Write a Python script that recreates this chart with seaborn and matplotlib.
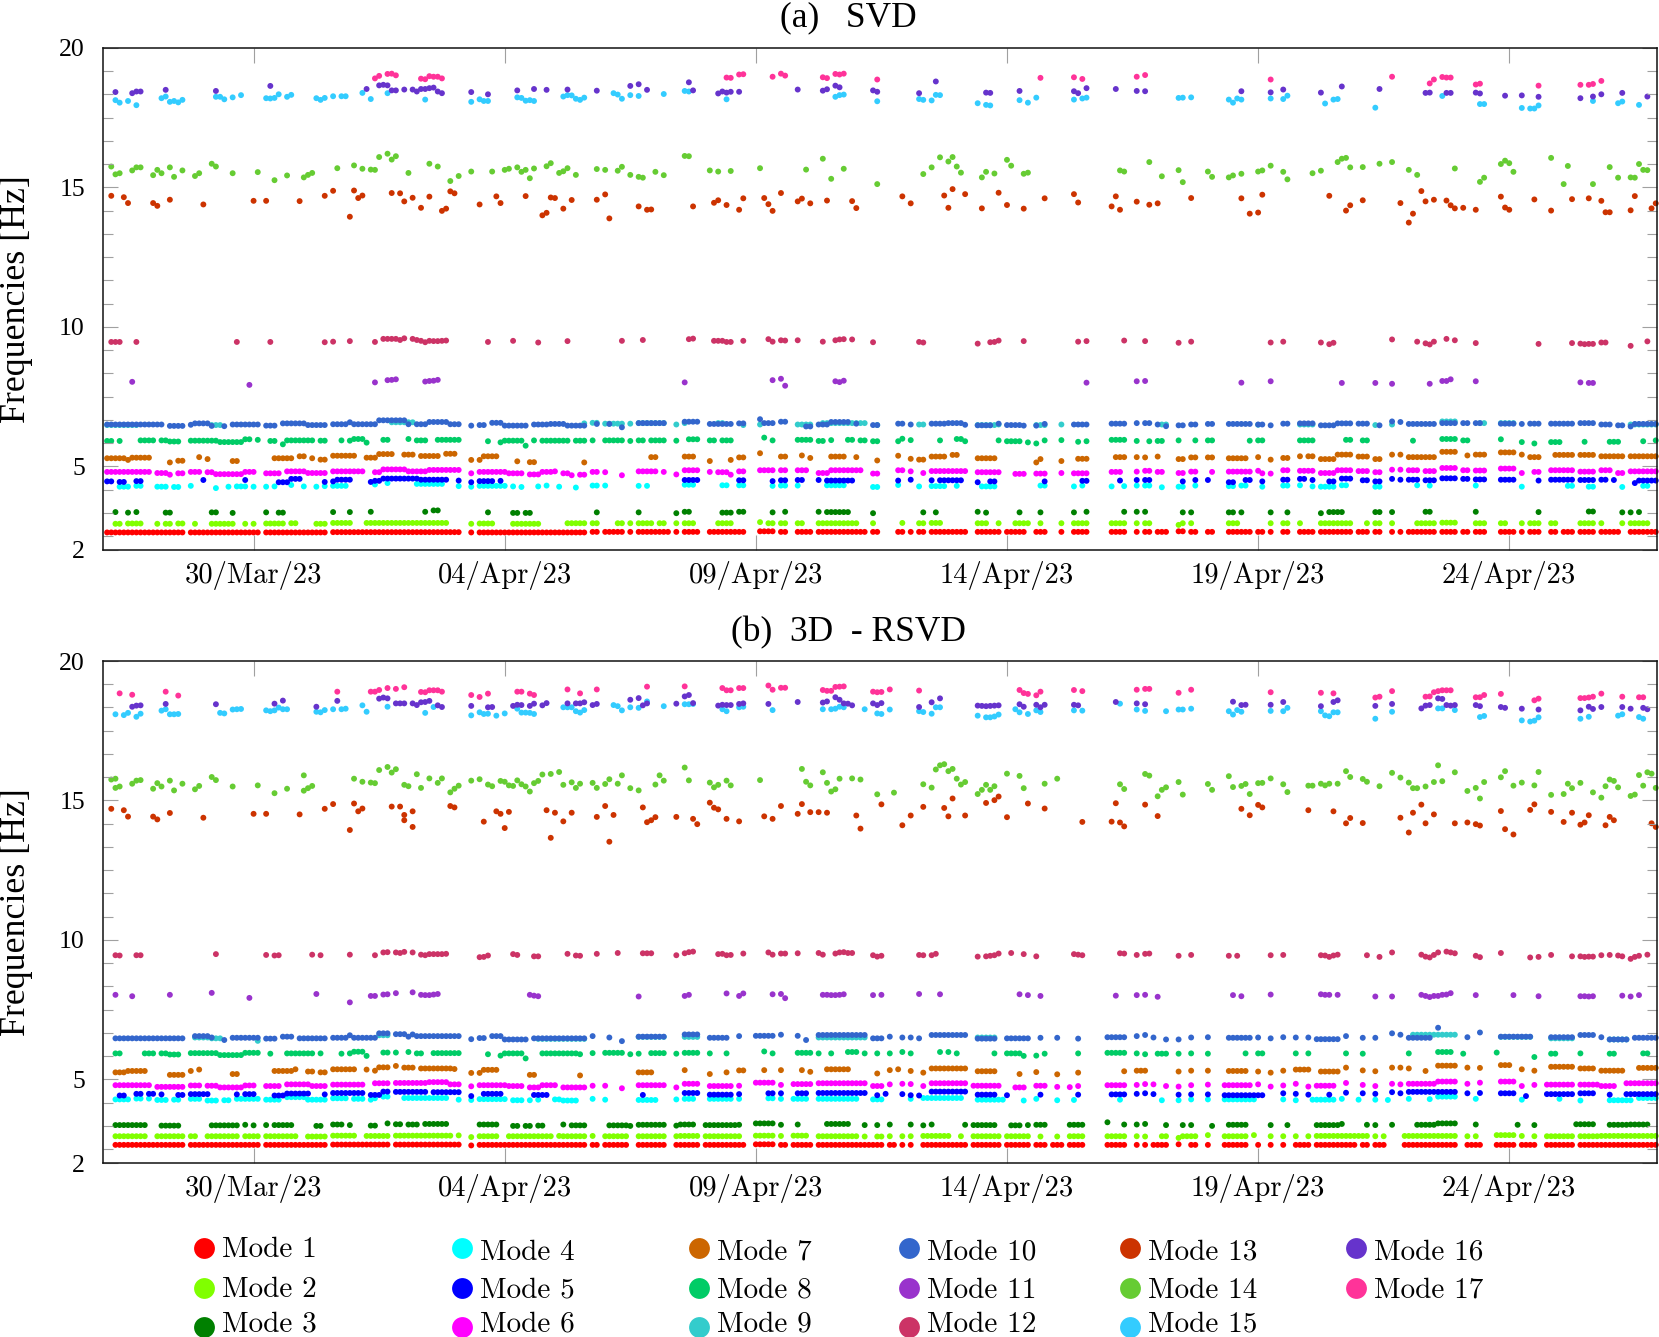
import pandas as pd
import numpy as np
import matplotlib
matplotlib.use("Agg")
import matplotlib.pyplot as plt
import matplotlib.dates as mdates
from matplotlib.lines import Line2D
import seaborn as sns

# frequencies, one list per mode and per panel
# sample number = 2 hour steps from 27/Mar/23 00:00
# (sample, Hz) is one point, (first sample, last sample, Hz) is a run of points
# at about the same level, used for the dense lower modes
a1 = [(1,19,2.63),(21,37,2.63),(39,53,2.63),(55,85,2.64),(88,88,2.63),(90,115,2.63),(117,118,2.65),(120,124,2.65),(126,126,2.65),(128,135,2.65),(137,137,2.65),(139,142,2.65),(145,151,2.65),(152,153,2.65),(157,160,2.67),(162,163,2.65),(166,169,2.65),(171,182,2.65),(184,185,2.65),(190,191,2.65),(193,193,2.65),(195,196,2.65),(198,206,2.65),(209,214,2.65),(216,220,2.65),(223,225,2.65),(229,229,2.65),(232,235,2.65),
      (241,244,2.65),(247,247,2.65),(249,250,2.65),(252,254,2.65),(257,258,2.67),(260,261,2.65),(264,265,2.65),(269,274,2.65),(276,277,2.65),(279,279,2.65),(282,283,2.65),(286,289,2.65),(291,298,2.65),(300,302,2.65),(304,305,2.65),(308,308,2.65),(310,310,2.65),(312,318,2.65),(320,323,2.65),(325,326,2.65),(328,330,2.65),(334,337,2.65),(339,339,2.65),(341,343,2.65),(346,347,2.65),(349,351,2.65),(353,356,2.65),(358,362,2.65),(365,371,2.65)]
a2 = [(3,4,2.94),(6,9,2.95),(13,13,2.94),(15,16,2.94),(18,19,2.95),(22,22,2.94),(26,31,2.94),(34,34,2.94),(36,36,2.94),(39,43,2.95),(45,46,2.96),(51,53,2.94),(55,59,2.97),(63,82,2.97),(88,88,2.94),(90,93,2.95),(98,104,2.94),
      (111,115,2.96),(117,118,2.96),(123,124,2.96),(126,126,2.96),(128,131,2.96),(133,134,2.96),(137,137,2.96),(139,141,2.96),(147,150,2.96),(157,157,3.0),(159,160,2.96),(162,163,2.96),(166,167,2.96),(171,180,2.96),(184,184,2.96),(191,191,2.97),(195,196,2.96),(198,200,2.97),(209,211,2.96),(214,214,2.96),(218,221,2.96),(224,224,2.96),(229,229,2.96),(232,235,2.96),
      (241,244,2.96),(247,247,2.96),(249,250,2.96),(257,257,2.90),(258,258,2.96),(260,260,2.96),(269,271,2.96),(279,279,2.96),(282,283,2.96),(286,286,2.96),(291,298,2.96),(302,302,2.96),(304,305,2.96),(308,308,2.96),(314,318,2.96),(320,323,2.98),(328,330,2.96),(334,335,2.96),(339,339,2.96),(341,343,2.96),(346,347,2.96),(353,356,2.96),(358,358,2.96),(363,363,2.96),(365,369,2.96)]
a3 = [(3,3,3.36),(6,6,3.34),(8,8,3.36),(15,16,3.34),(26,27,3.35),(31,31,3.33),(39,39,3.35),(42,43,3.34),(55,55,3.36),(59,59,3.36),(64,64,3.37),(77,77,3.37),(79,80,3.42),(92,92,3.35),(98,99,3.33),(101,102,3.33),
      (118,118,3.35),(128,128,3.35),(137,137,3.32),(139,140,3.37),(148,150,3.34),(152,153,3.37),(160,160,3.35),(163,163,3.37),(171,171,3.37),(173,178,3.36),(184,184,3.32),(196,196,3.35),(199,199,3.35),(209,209,3.37),(211,211,3.34),(219,219,3.35),(224,224,3.35),(232,232,3.35),(235,235,3.37),
      (244,244,3.37),(247,247,3.37),(249,249,3.37),(258,258,3.35),(260,260,3.35),(269,270,3.35),(272,272,3.35),(279,279,3.35),(283,283,3.35),(291,291,3.32),(293,296,3.36),(304,305,3.36),(308,308,3.36),(316,317,3.37),(328,328,3.37),(343,343,3.36),(355,356,3.38),(363,363,3.35),(365,365,3.35),(367,367,3.36)]
a4 = [(4,6,4.27),(8,9,4.30),(13,15,4.27),(17,18,4.26),(21,21,4.30),(27,27,4.22),(30,30,4.27),(32,34,4.28),(36,36,4.27),(39,39,4.27),(41,41,4.28),(45,45,4.33),(48,48,4.28),(51,51,4.27),(53,53,4.29),(55,58,4.30),(65,65,4.35),(68,68,4.40),(75,81,4.37),(85,85,4.29),(88,88,4.27),(90,96,4.30),(98,98,4.28),(100,100,4.26),(104,104,4.28),(106,106,4.31),(109,109,4.27),
      (113,113,4.24),(117,118,4.31),(120,120,4.31),(128,128,4.30),(130,130,4.30),(139,141,4.34),(148,149,4.32),(152,153,4.32),(160,160,4.30),(162,163,4.31),(166,166,4.31),(173,177,4.32),(184,185,4.26),(190,190,4.33),(195,195,4.28),(198,201,4.29),(204,204,4.30),(210,213,4.28),(224,225,4.31),(232,232,4.28),(234,234,4.31),
      (241,241,4.28),(244,244,4.29),(247,247,4.31),(249,250,4.31),(253,253,4.25),(257,258,4.27),(261,261,4.31),(269,270,4.29),(272,273,4.31),(277,277,4.27),(282,283,4.31),(286,286,4.32),(289,289,4.28),(291,294,4.27),(296,297,4.32),(304,305,4.27),(314,314,4.32),(317,317,4.31),(328,328,4.31),(339,339,4.27),(350,351,4.30),(355,356,4.27),(363,363,4.26),(368,369,4.30)]
a5 = [(1,2,4.46),(4,5,4.44),(8,9,4.47),(24,24,4.51),(34,34,4.51),(42,44,4.43),(45,47,4.55),(53,53,4.44),(55,55,4.46),(56,59,4.52),(64,64,4.44),(65,66,4.48),(67,75,4.56),(76,82,4.52),(85,85,4.49),(88,88,4.43),(90,93,4.47),(95,95,4.48),
      (139,142,4.51),(152,153,4.50),(160,160,4.47),(162,163,4.50),(166,167,4.51),(171,171,4.51),(173,179,4.49),(190,190,4.49),(193,193,4.52),(198,198,4.50),(200,205,4.50),(209,209,4.43),(212,213,4.46),(225,225,4.46),(234,235,4.48),
      (243,243,4.49),(247,247,4.51),(249,250,4.51),(258,258,4.46),(261,261,4.51),(264,264,4.51),(269,270,4.43),(273,274,4.51),(277,277,4.46),(282,283,4.52),(286,287,4.55),(289,289,4.51),(293,294,4.46),(296,298,4.56),(301,302,4.50),(304,305,4.46),(308,308,4.55),(310,310,4.52),(312,314,4.52),(316,318,4.50),(320,323,4.57),(325,326,4.55),(328,330,4.53),(334,337,4.52),(343,343,4.49),(346,351,4.52),(353,356,4.51),(358,359,4.52),(361,361,4.51),(366,366,4.40),(367,371,4.49)]
a6 = [(1,11,4.80),(13,15,4.76),(16,16,4.70),(18,19,4.75),(21,23,4.80),(25,26,4.79),(27,33,4.72),(34,36,4.80),(39,42,4.75),(44,48,4.82),(49,53,4.76),(55,62,4.82),(65,66,4.79),(67,72,4.89),(73,77,4.82),(78,85,4.87),(88,88,4.75),(90,96,4.80),(97,100,4.75),(102,104,4.71),(105,107,4.80),(108,108,4.82),
      (110,111,4.75),(112,112,4.68),(114,115,4.70),(117,118,4.80),(120,120,4.79),(124,124,4.68),(128,132,4.82),(134,134,4.80),(137,137,4.71),(139,142,4.86),(145,145,4.80),(147,149,4.79),(150,150,4.70),(152,153,4.82),(157,160,4.86),(162,163,4.86),(166,168,4.86),(171,173,4.76),(174,181,4.86),(184,185,4.74),(190,191,4.86),(193,193,4.82),(196,196,4.76),(198,206,4.83),(209,214,4.79),(218,220,4.73),(223,225,4.74),(229,229,4.76),(232,235,4.75),
      (241,243,4.80),(247,247,4.81),(249,250,4.84),(252,253,4.80),(257,258,4.76),(260,261,4.81),(265,265,4.80),(269,274,4.81),(276,276,4.84),(277,277,4.75),(279,279,4.74),(282,283,4.86),(286,289,4.84),(291,294,4.76),(295,298,4.86),(300,302,4.83),(304,305,4.79),(308,308,4.88),(310,310,4.88),(312,314,4.86),(316,318,4.83),(320,323,4.94),(325,326,4.86),(328,330,4.85),(334,337,4.92),(339,339,4.76),(342,343,4.80),(346,351,4.86),(353,356,4.81),(358,360,4.86),(362,363,4.76),(365,371,4.82)]
a7 = [(1,5,5.29),(6,6,5.23),(7,11,5.31),(16,16,5.14),(18,19,5.20),(23,23,5.33),(25,25,5.26),(31,32,5.19),(41,45,5.29),(47,48,5.36),(50,50,5.29),(52,53,5.24),(55,60,5.38),(63,65,5.31),(66,69,5.44),(72,74,5.42),(76,80,5.37),(82,84,5.45),(88,88,5.23),(90,90,5.23),(91,94,5.36),(99,99,5.18),(102,103,5.15),
      (115,115,5.14),(131,132,5.33),(139,141,5.35),(145,145,5.19),(150,150,5.23),(152,153,5.32),(157,157,5.47),(162,163,5.35),(167,167,5.39),(169,169,5.30),(174,177,5.35),(180,180,5.33),(185,185,5.21),(190,190,5.38),(193,193,5.27),(195,196,5.24),(198,201,5.35),(203,204,5.41),(209,213,5.29),(223,223,5.14),(224,224,5.26),(229,229,5.19),(233,235,5.27),
      (242,244,5.33),(247,247,5.33),(249,249,5.32),(252,252,5.35),(257,258,5.26),(260,261,5.32),(264,265,5.32),(269,273,5.29),(276,276,5.33),(279,279,5.24),(282,283,5.30),(286,286,5.36),(288,289,5.36),(291,294,5.26),(295,298,5.42),(300,302,5.35),(304,305,5.26),(308,308,5.42),(310,310,5.42),(312,318,5.33),(320,323,5.52),(326,326,5.39),(328,330,5.42),(334,337,5.50),(339,339,5.42),(341,343,5.33),(347,351,5.41),(353,356,5.41),(358,363,5.36),(365,371,5.36)]
a8 = [(1,2,5.91),(4,4,5.91),(9,12,5.93),(14,15,5.93),(16,18,5.89),(21,27,5.92),(28,33,5.87),(34,35,5.97),(37,37,5.95),(40,41,5.91),(43,43,5.79),(44,50,5.93),(52,53,5.92),(57,57,5.93),(59,59,5.92),(60,62,5.98),(63,63,5.85),(67,68,5.95),(73,73,5.98),(75,77,5.93),(80,85,5.95),(92,92,5.90),(95,95,5.86),(96,100,5.92),(101,101,5.74),(103,103,5.93),(105,111,5.92),
      (113,115,5.92),(117,117,5.93),(120,124,5.93),(126,126,5.91),(128,129,5.93),(131,134,5.93),(137,137,5.92),(140,142,5.97),(145,146,5.93),(148,150,5.93),(158,158,6.03),(160,160,5.93),(166,169,5.95),(171,172,5.91),(174,174,5.94),(178,179,5.95),(181,182,5.93),(184,185,5.90),(190,190,5.90),(191,191,5.99),(193,193,5.94),(200,200,5.93),(204,205,5.98),(206,206,5.90),(214,214,5.93),(216,219,5.90),(221,221,5.86),(223,223,5.82),(225,225,5.93),(229,229,5.94),(233,233,5.88),(235,235,5.90),
      (241,244,5.95),(247,247,5.91),(250,250,5.90),(252,253,5.91),(257,257,5.93),(261,261,5.93),(264,265,5.93),(274,274,5.92),(276,277,5.93),(286,289,5.93),(297,298,5.95),(301,302,5.93),(313,313,5.92),(320,323,5.98),(325,326,5.93),(334,334,5.97),(339,339,5.87),(342,342,5.82),(346,348,5.87),(354,354,5.88),(360,362,5.88),(368,368,5.90),(371,371,5.93)]
a9 = [(1,8,6.48),(26,28,6.48),(69,74,6.58),(115,115,6.54),(117,118,6.56),(120,124,6.53),(126,126,6.53),(128,134,6.55),(137,137,6.50),(139,139,6.55),(147,148,6.55),(153,153,6.48),(157,157,6.50),(166,169,6.50),(172,182,6.55),(185,185,6.48),(195,196,6.50),(209,213,6.48),(214,214,6.50),(223,225,6.48),(229,229,6.50),
      (253,254,6.50),(276,276,6.49),(286,289,6.50),(304,304,6.48),(308,308,6.50),(320,323,6.61),(329,330,6.55),(334,337,6.55),(365,371,6.50)]
a10 = [(1,14,6.50),(16,19,6.45),(21,21,6.49),(22,25,6.54),(26,26,6.45),(29,29,6.44),(31,37,6.50),(39,41,6.46),(43,48,6.54),(49,53,6.48),(55,58,6.51),(59,59,6.58),(60,65,6.51),(66,72,6.65),(73,73,6.51),(75,77,6.51),(78,82,6.59),(83,85,6.51),(88,88,6.46),(90,91,6.48),(93,95,6.56),(96,101,6.46),(103,106,6.50),(107,110,6.52),
       (111,115,6.46),(118,118,6.52),(121,121,6.52),(124,124,6.40),(128,134,6.55),(139,142,6.60),(145,150,6.52),(152,153,6.54),(157,157,6.69),(158,160,6.55),(162,163,6.60),(168,169,6.43),(171,173,6.50),(174,178,6.59),(180,180,6.53),(184,185,6.48),(190,191,6.53),(193,193,6.50),(198,201,6.53),(202,205,6.55),(206,206,6.49),(209,212,6.47),(214,214,6.53),(216,219,6.48),(220,220,6.46),(223,223,6.46),(225,225,6.52),(232,235,6.50),
       (241,244,6.53),(247,247,6.55),(249,250,6.55),(252,252,6.50),(254,254,6.44),(257,258,6.47),(260,261,6.50),(264,265,6.52),(269,274,6.52),(276,277,6.50),(279,279,6.47),(282,283,6.53),(286,289,6.54),(291,294,6.47),(295,298,6.54),(300,302,6.53),(305,305,6.47),(308,308,6.61),(310,310,6.59),(312,318,6.52),(320,323,6.55),(325,326,6.55),(328,329,6.55),(334,337,6.53),(339,339,6.52),(341,343,6.53),(346,351,6.53),(353,356,6.55),(358,360,6.50),(362,363,6.47),(365,365,6.43),(366,371,6.52)]
a11 = [(7,8.03),(35,7.92),(65,8.01),(68,8.09),(69,8.10),(70,8.12),(77,8.04),(78,8.06),(79,8.07),(80,8.10),(139,8.01),(160,8.09),(162,8.14),(163,7.89),(175,8.05),(176,8.02),(177,8.07),(235,8.00),(247,8.05),(249,8.06),(272,8.00),(279,8.05),(296,7.99),(304,7.99),(308,7.96),(317,7.96),(320,8.06),(321,8.06),(322,8.12),(328,8.05),(353,8.01),(355,7.99),(356,7.99)]
a12 = [(2,9.46),(3,9.46),(4,9.46),(8,9.46),(32,9.46),(40,9.46),(53,9.45),(55,9.47),(59,9.49),(65,9.46),(67,9.57),(68,9.57),(69,9.57),(70,9.57),(71,9.53),(72,9.59),(74,9.57),(75,9.53),(76,9.50),(77,9.45),(78,9.50),(79,9.49),(80,9.49),(81,9.50),(82,9.51),(92,9.46),(98,9.50),(104,9.44),
       (111,9.49),(124,9.50),(129,9.53),(140,9.56),(141,9.58),(146,9.50),(147,9.50),(148,9.50),(149,9.46),(150,9.46),(153,9.50),(159,9.56),(160,9.47),(162,9.52),(163,9.51),(166,9.52),(172,9.47),(175,9.52),(176,9.55),(177,9.56),(179,9.55),(184,9.45),(195,9.46),(196,9.44),(209,9.40),(212,9.45),(213,9.46),(214,9.51),(220,9.49),(233,9.47),(235,9.49),
       (244,9.51),(249,9.49),(257,9.43),(260,9.47),(279,9.44),(282,9.47),(291,9.44),(293,9.38),(294,9.43),(308,9.55),(314,9.47),(316,9.41),(317,9.37),(318,9.47),(321,9.57),(323,9.52),(328,9.42),(343,9.39),(351,9.42),(353,9.40),(354,9.38),(355,9.39),(356,9.39),(358,9.44),(359,9.44),(365,9.32),(369,9.48)]
a13 = [(2,14.70),(5,14.65),(6,14.44),(12,14.44),(13,14.34),(16,14.56),(24,14.39),(36,14.52),(39,14.52),(47,14.51),(53,14.70),(55,14.88),(59,13.95),(60,14.89),(61,14.62),(62,14.71),(69,14.80),(71,14.79),(72,14.50),(74,14.63),(76,14.27),(78,14.67),(81,14.16),(82,14.24),(83,14.86),(84,14.79),(90,14.39),(94,14.68),(95,14.44),(101,14.69),(105,14.00),(106,14.09),(107,14.64),(108,14.62),
       (110,14.24),(112,14.55),(118,14.56),(120,14.75),(121,13.89),(128,14.32),(130,14.20),(131,14.21),(141,14.32),(146,14.45),(147,14.54),(149,14.37),(152,14.20),(153,14.61),(158,14.62),(159,14.40),(160,14.16),(162,14.80),(166,14.50),(167,14.60),(169,14.43),(173,14.53),(179,14.51),(180,14.26),(191,14.68),(193,14.43),(201,14.71),(202,14.27),(203,14.94),(206,14.76),(210,14.25),(214,14.81),(216,14.37),(220,14.24),(225,14.61),(232,14.76),(233,14.46),
       (241,14.32),(242,14.68),(243,14.20),(247,14.49),(250,14.38),(252,14.43),(260,14.62),(272,14.61),(274,14.06),(276,14.10),(277,14.74),(293,14.70),(297,14.17),(298,14.36),(301,14.54),(310,14.44),(312,13.74),(313,14.06),(315,14.87),(316,14.50),(318,14.56),(321,14.53),(322,14.36),(323,14.25),(325,14.27),(328,14.20),(334,14.67),(335,14.28),(336,14.20),(342,14.57),(346,14.17),(351,14.58),(355,14.61),(358,14.52),(359,14.11),(360,14.11),(365,14.18),(366,14.69),(370,14.25),(371,14.43)]
a14 = [(2,15.75),(3,15.47),(4,15.51),(7,15.61),(8,15.72),(9,15.72),(12,15.44),(13,15.63),(14,15.51),(16,15.72),(17,15.38),(19,15.61),(22,15.41),(23,15.51),(26,15.85),(27,15.75),(31,15.51),(37,15.55),(41,15.26),(44,15.43),(48,15.36),(49,15.45),(50,15.52),(56,15.69),(60,15.79),(62,15.67),(64,15.64),(65,15.63),(66,16.09),(68,16.21),(69,16.00),(70,16.12),(73,15.52),(78,15.85),(80,15.75),(83,15.23),(85,15.41),(88,15.57),(93,15.57),(96,15.63),(97,15.67),(99,15.72),(100,15.56),(101,15.63),(102,15.33),(103,15.68),(106,15.76),(107,15.87),(109,15.52),
       (110,15.58),(111,15.69),(113,15.45),(118,15.66),(120,15.63),(123,15.60),(124,15.74),(126,15.45),(128,15.38),(129,15.35),(132,15.56),(134,15.44),(139,16.13),(140,16.12),(145,15.61),(147,15.57),(150,15.59),(157,15.69),(168,15.64),(172,16.03),(174,15.31),(177,15.67),(185,15.12),(196,15.48),(198,15.72),(200,16.08),(202,15.93),(203,16.09),(204,15.75),(205,15.53),(210,15.36),(211,15.56),(213,15.50),(216,15.99),(217,15.78),(220,15.49),(221,15.53),
       (243,15.61),(244,15.57),(250,15.91),(253,15.40),(257,15.62),(258,15.19),(264,15.57),(265,15.38),(269,15.36),(270,15.43),(272,15.49),(276,15.57),(277,15.61),(279,15.78),(282,15.56),(283,15.29),(289,15.51),(291,15.60),(295,15.91),(296,16.03),(297,16.06),(298,15.72),(301,15.73),(305,15.85),(308,15.91),(312,15.63),(314,15.45),(323,15.68),(329,15.20),(330,15.35),(334,15.84),(335,15.96),(336,15.87),(337,15.56),(346,16.06),(349,15.12),(350,15.77),(356,15.12),(360,15.73),(362,15.35),(365,15.36),(366,15.35),(367,15.84),(368,15.63),(369,15.62)]
a15 = [(3,18.13),(4,18.04),(6,18.10),(8,17.95),(14,18.20),(15,18.26),(16,18.07),(17,18.10),(18,18.05),(19,18.14),(27,18.25),(28,18.25),(29,18.16),(31,18.23),(33,18.31),(39,18.20),(40,18.19),(41,18.21),(42,18.34),(44,18.25),(45,18.32),(51,18.20),(52,18.14),(53,18.21),(55,18.27),(57,18.27),(58,18.27),(62,18.39),(64,18.17),(68,18.38),(77,18.15),(88,18.07),(90,18.16),(91,18.10),(92,18.10),(99,18.23),(100,18.21),(101,18.11),(102,18.13),(103,18.10),
       (110,18.26),(111,18.31),(112,18.30),(113,18.18),(114,18.14),(115,18.22),(122,18.38),(123,18.33),(124,18.18),(126,18.31),(128,18.28),(134,18.35),(139,18.46),(140,18.44),(149,18.16),(175,18.25),(176,18.31),(177,18.33),(185,18.09),(195,18.17),(196,18.14),(198,18.12),(199,18.32),(200,18.31),(209,18.02),(211,17.96),(212,17.94),(219,18.13),(221,18.04),(223,18.22),(232,18.15),(234,18.19),(235,18.22),
       (257,18.21),(258,18.22),(260,18.23),(269,18.15),(270,18.04),(271,18.19),(272,18.15),(279,18.19),(282,18.17),(283,18.29),(292,18.01),(294,18.15),(295,18.17),(304,17.86),(320,18.28),(329,17.99),(330,17.99),(339,17.85),(341,17.83),(342,17.83),(343,17.94),(356,18.10),(362,18.02),(363,18.08),(367,17.96)]
a16 = [(3,18.42),(7,18.38),(8,18.44),(9,18.44),(15,18.50),(27,18.46),(40,18.64),(63,18.53),(66,18.66),(67,18.68),(68,18.66),(69,18.48),(70,18.48),(72,18.51),(74,18.51),(75,18.44),(76,18.53),(77,18.53),(78,18.56),(79,18.58),(80,18.44),(81,18.38),(88,18.42),(92,18.34),(99,18.48),(103,18.53),(106,18.50),
       (111,18.51),(118,18.47),(126,18.64),(128,18.70),(130,18.50),(140,18.77),(141,18.48),(147,18.37),(148,18.44),(149,18.40),(150,18.43),(152,18.43),(166,18.51),(172,18.47),(173,18.52),(175,18.65),(176,18.59),(184,18.48),(185,18.43),(195,18.38),(199,18.80),(211,18.40),(212,18.39),(219,18.46),(232,18.45),(233,18.38),(235,18.56),
       (242,18.53),(247,18.46),(249,18.45),(272,18.45),(279,18.41),(282,18.51),(291,18.40),(296,18.62),(305,18.53),(316,18.39),(317,18.40),(321,18.39),(322,18.39),(328,18.40),(329,18.37),(335,18.29),(339,18.30),(343,18.25),(353,18.20),(356,18.26),(358,18.34),(363,18.39),(369,18.26)]
a17 = [(65,18.91),(66,19.00),(68,19.07),(69,19.08),(70,19.02),(76,18.90),(77,18.88),(78,18.99),(79,18.97),(80,18.97),(81,18.91),(149,18.94),(150,18.93),(152,19.05),(153,19.06),(160,18.97),(162,19.08),(163,19.01),(172,18.95),(173,18.92),(175,19.07),(176,19.05),(177,19.08),(185,18.87),(224,18.93),(232,18.95),(234,18.89),
       (247,18.97),(249,19.03),(279,18.87),(308,18.97),(317,18.73),(318,18.87),(320,18.96),(321,18.94),(322,18.94),(328,18.69),(329,18.72),(343,18.65),(353,18.68),(355,18.68),(356,18.71),(358,18.82)]

b1 = [(3,19,2.65),(21,37,2.65),(39,53,2.65),(55,68,2.66),(70,85,2.66),(88,88,2.63),(90,115,2.65),(117,118,2.65),(120,125,2.65),(128,134,2.65),(137,142,2.65),(144,151,2.65),(152,153,2.65),(156,160,2.67),(162,163,2.65),(165,169,2.65),(171,182,2.65),(183,186,2.65),(188,189,2.65),(191,191,2.65),(193,193,2.65),(196,206,2.65),(208,214,2.65),(216,221,2.65),(223,225,2.65),(227,229,2.65),(231,234,2.65),
      (240,244,2.65),(247,247,2.65),(249,249,2.65),(251,254,2.65),(257,257,2.67),(260,261,2.65),(264,264,2.65),(268,273,2.65),(276,276,2.65),(279,279,2.65),(282,282,2.65),(285,288,2.65),(290,299,2.65),(301,302,2.65),(304,306,2.65),(311,323,2.65),(326,329,2.65),(333,337,2.65),(339,342,2.65),(345,351,2.65),(353,357,2.65),(358,371,2.65)]
b2 = [(3,10,2.96),(13,19,2.96),(21,22,2.96),(25,32,2.96),(34,37,2.96),(39,46,2.96),(49,53,2.95),(55,60,2.98),(63,68,2.97),(70,83,2.98),(85,85,2.99),(88,88,2.93),(90,94,2.96),(97,107,2.96),(109,109,2.97),
      (110,115,2.96),(117,117,2.97),(120,125,2.96),(128,134,2.96),(137,137,2.96),(138,142,2.97),(144,151,2.96),(152,152,2.96),(156,160,2.98),(162,162,2.97),(165,168,2.98),(171,180,2.96),(182,182,2.95),(185,186,2.95),(188,188,2.96),(191,191,2.96),(193,193,2.96),(196,202,2.97),(205,205,2.96),(208,214,2.96),(216,221,2.96),(224,224,2.95),(228,228,2.95),(231,234,2.96),
      (240,244,2.96),(247,247,2.96),(249,249,2.95),(253,254,2.96),(257,257,2.90),(258,261,2.96),(264,264,3.0),(268,273,2.96),(275,275,3.0),(279,279,2.96),(282,282,2.96),(285,285,2.96),(288,288,2.96),(290,300,2.97),(301,302,2.97),(304,304,2.96),(306,306,2.96),(311,323,2.97),(326,326,2.96),(328,328,2.96),(333,337,3.0),(339,339,2.97),(342,342,2.96),(345,351,2.96),(353,357,2.96),(358,371,2.97)]
b3 = [(3,10,3.36),(14,18,3.34),(26,32,3.35),(34,34,3.37),(36,36,3.35),(39,39,3.36),(41,45,3.36),(51,52,3.33),(55,57,3.38),(59,59,3.36),(64,65,3.34),(68,68,3.42),(70,71,3.39),(73,75,3.38),(77,82,3.40),(90,94,3.38),(98,99,3.33),(101,102,3.33),(104,105,3.34),
      (110,110,3.38),(112,115,3.35),(121,125,3.35),(126,126,3.33),(128,134,3.37),(137,137,3.34),(138,141,3.38),(144,151,3.36),(152,152,3.37),(156,160,3.42),(162,162,3.37),(166,166,3.38),(173,178,3.40),(182,182,3.36),(185,185,3.36),(188,188,3.38),(193,193,3.38),(196,196,3.35),(198,198,3.38),(206,206,3.37),(208,213,3.36),(217,219,3.35),(221,221,3.36),(223,225,3.37),(231,234,3.37),
      (240,240,3.46),(244,244,3.38),(247,247,3.38),(249,249,3.40),(254,254,3.36),(258,258,3.36),(260,260,3.36),(265,265,3.33),(269,273,3.37),(279,279,3.36),(283,283,3.36),(290,295,3.36),(296,296,3.40),(302,302,3.37),(304,304,3.36),(308,308,3.37),(314,318,3.37),(319,323,3.42),(328,328,3.38),(338,338,3.37),(342,342,3.36),(352,356,3.39),(360,364,3.37),(365,369,3.38)]
b4 = [(3,6,4.28),(8,9,4.31),(11,11,4.31),(13,15,4.26),(17,18,4.27),(21,23,4.30),(25,27,4.24),(29,30,4.25),(32,37,4.30),(39,42,4.27),(44,48,4.36),(49,53,4.27),(55,58,4.32),(60,62,4.30),(64,64,4.27),(65,65,4.32),(67,68,4.38),(72,82,4.33),(85,85,4.27),(88,88,4.26),(90,96,4.29),(98,100,4.25),(102,102,4.25),(104,104,4.27),(108,109,4.28),
      (110,113,4.24),(117,117,4.30),(120,120,4.27),(128,132,4.26),(137,137,4.28),(139,141,4.30),(145,150,4.30),(152,152,4.30),(159,160,4.32),(162,162,4.30),(165,168,4.30),(171,180,4.30),(184,186,4.28),(193,193,4.30),(196,205,4.33),(209,215,4.27),(220,220,4.24),(223,223,4.30),(228,228,4.25),(232,232,4.26),(243,243,4.27),(253,253,4.25),(257,257,4.25),(260,260,4.28),(264,264,4.28),(268,275,4.28),(282,282,4.28),(285,285,4.25),(289,294,4.27),(296,296,4.30),(300,300,4.27),(304,304,4.27),(307,307,4.26),(312,312,4.30),(317,317,4.29),(319,323,4.38),(328,328,4.30),(339,339,4.27),(348,348,4.30),(353,353,4.24),(360,365,4.25),(367,371,4.33)]
b5 = [(4,5,4.42),(8,9,4.48),(11,12,4.48),(14,14,4.46),(18,19,4.44),(21,25,4.47),(32,32,4.46),(34,36,4.47),(41,43,4.42),(44,49,4.49),(53,53,4.46),(55,62,4.51),(64,66,4.44),(67,68,4.56),(70,77,4.55),(79,85,4.54),(88,88,4.40),(91,95,4.48),(103,106,4.44),
      (129,129,4.44),(139,142,4.51),(145,150,4.45),(152,152,4.47),(159,160,4.50),(162,162,4.50),(166,168,4.50),(171,182,4.51),(185,185,4.43),(187,187,4.48),(191,191,4.47),(193,193,4.43),(195,195,4.42),(198,206,4.56),(209,213,4.45),(216,216,4.43),(224,224,4.45),(233,233,4.45),(241,244,4.46),(247,247,4.48),(249,249,4.50),(251,251,4.47),(257,257,4.45),(260,260,4.46),(264,264,4.46),(268,277,4.43),(282,282,4.50),(285,285,4.48),(288,288,4.45),(293,293,4.45),(297,297,4.52),(301,301,4.50),(304,304,4.48),(308,308,4.54),(310,310,4.50),(312,323,4.55),(326,326,4.50),(329,329,4.51),(334,337,4.50),(340,340,4.40),(345,351,4.47),(353,356,4.50),(360,360,4.45),(364,371,4.47)]
b6 = [(3,11,4.79),(13,19,4.73),(21,23,4.78),(25,27,4.77),(28,33,4.71),(34,36,4.78),(39,42,4.76),(44,49,4.82),(50,53,4.76),(55,62,4.81),(65,68,4.86),(70,77,4.87),(78,82,4.90),(83,85,4.82),(88,88,4.75),(90,96,4.79),(97,100,4.76),(102,104,4.71),(105,108,4.79),
      (110,115,4.71),(117,117,4.77),(120,120,4.77),(124,124,4.68),(128,134,4.79),(137,137,4.71),(139,142,4.84),(145,150,4.76),(152,152,4.77),(156,160,4.88),(162,162,4.80),(165,169,4.83),(171,182,4.86),(184,186,4.76),(188,188,4.82),(191,191,4.84),(193,193,4.83),(196,196,4.76),(198,206,4.86),(208,214,4.77),(218,220,4.71),(223,225,4.77),(228,228,4.73),(231,231,4.72),(233,233,4.76),
      (240,244,4.79),(247,247,4.80),(249,249,4.83),(251,251,4.82),(254,254,4.76),(257,257,4.74),(260,260,4.79),(264,264,4.81),(268,274,4.79),(276,276,4.82),(279,279,4.74),(282,282,4.78),(285,285,4.84),(288,288,4.74),(290,294,4.77),(297,297,4.87),(301,301,4.80),(304,304,4.76),(308,308,4.84),(310,310,4.82),(312,318,4.84),(319,323,4.92),(326,326,4.84),(329,329,4.88),(334,337,4.92),(339,339,4.76),(342,342,4.80),(345,351,4.81),(353,357,4.81),(358,361,4.76),(364,371,4.86)]
b7 = [(3,5,5.25),(6,10,5.30),(16,19,5.16),(21,21,5.30),(23,23,5.35),(31,32,5.19),(41,45,5.30),(46,46,5.36),(49,50,5.28),(52,53,5.25),(55,60,5.36),(63,63,5.35),(65,65,5.31),(66,68,5.43),(70,70,5.48),(72,74,5.42),(76,83,5.39),(84,84,5.37),(88,88,5.23),(90,90,5.23),(91,94,5.34),(102,103,5.16),
      (114,114,5.14),(128,131,5.25),(139,139,5.33),(145,145,5.19),(149,149,5.25),(152,153,5.32),(158,158,5.33),(162,162,5.33),(167,167,5.33),(169,169,5.27),(173,178,5.36),(185,185,5.21),(188,188,5.33),(190,190,5.36),(193,193,5.30),(196,196,5.24),(198,206,5.39),(209,213,5.29),(219,219,5.19),(223,223,5.26),(228,228,5.18),(233,233,5.24),(244,244,5.29),(247,249,5.31),(257,257,5.28),(260,260,5.31),(264,264,5.31),(269,273,5.30),(276,276,5.28),(279,279,5.24),(282,282,5.31),(285,288,5.35),(291,295,5.28),(297,297,5.42),(301,301,5.32),(304,304,5.29),(308,308,5.42),(310,310,5.42),(312,312,5.39),(316,316,5.30),(319,323,5.49),(326,326,5.42),(329,329,5.41),(334,336,5.51),(339,339,5.36),(342,342,5.31),(346,351,5.45),(353,356,5.39),(358,363,5.31),(367,371,5.41)]
b8 = [(3,4,5.93),(10,12,5.93),(14,15,5.93),(16,18,5.89),(21,27,5.94),(28,33,5.87),(34,37,5.95),(40,40,5.92),(44,50,5.93),(52,52,5.93),(57,57,5.92),(59,59,5.93),(60,62,5.99),(63,63,5.84),(67,68,5.96),(70,70,5.96),(73,73,5.98),(75,76,5.93),(79,85,5.94),(92,92,5.90),(95,95,5.85),(96,100,5.93),(101,101,5.75),(105,113,5.93),
      (114,114,5.90),(117,117,5.94),(120,124,5.95),(126,126,5.90),(128,128,5.92),(131,134,5.94),(137,137,5.92),(139,142,5.95),(145,145,5.93),(149,149,5.93),(158,158,6.00),(160,160,5.93),(166,169,5.95),(171,171,5.93),(174,174,5.93),(178,180,5.98),(182,182,5.93),(185,185,5.93),(188,188,5.93),(191,191,5.98),(193,193,5.93),(200,200,5.98),(202,202,5.98),(204,204,5.93),(213,213,5.93),(216,219,5.93),(220,220,5.84),(223,223,5.85),(225,225,5.92),(233,233,5.93),(240,244,5.95),(247,247,5.93),(249,249,5.90),(252,254,5.92),(257,257,5.92),(260,260,5.93),(264,264,5.92),(273,273,5.93),(276,277,5.93),(285,285,5.93),(288,288,5.93),(297,297,5.93),(301,301,5.92),(312,312,5.93),(319,322,5.98),(325,325,5.92),(333,333,5.96),(342,342,5.80),(346,347,5.92),(353,353,5.93),(360,361,5.92),(368,369,5.93)]
b9 = [(22,25,6.50),(26,28,6.47),(37,37,6.38),(66,68,6.58),(104,115,6.45),(128,134,6.52),(139,142,6.52),(171,182,6.50),(209,213,6.50),(313,323,6.60),(334,341,6.52),(346,351,6.47),(360,364,6.43)]
b10 = [(3,19,6.47),(22,25,6.55),(26,26,6.50),(29,29,6.41),(31,37,6.49),(39,41,6.46),(43,45,6.53),(47,53,6.47),(55,58,6.49),(59,59,6.58),(60,65,6.49),(66,68,6.65),(70,72,6.62),(73,73,6.53),(74,74,6.61),(75,85,6.55),(88,88,6.44),(90,91,6.48),(93,95,6.55),(96,101,6.43),(103,106,6.47),(107,115,6.47),
       (117,117,6.55),(121,121,6.50),(124,124,6.37),(128,134,6.53),(139,142,6.61),(145,149,6.49),(152,152,6.55),(156,160,6.56),(162,162,6.60),(166,166,6.56),(168,168,6.41),(171,182,6.59),(184,186,6.47),(188,188,6.53),(191,191,6.50),(193,193,6.50),(195,195,6.47),(198,206,6.59),(209,213,6.46),(216,221,6.47),(224,224,6.49),(228,228,6.49),(233,233,6.46),(240,244,6.51),(247,247,6.55),(249,249,6.59),(251,251,6.50),(254,254,6.43),(257,257,6.43),(260,260,6.50),(264,264,6.51),(269,274,6.49),(276,276,6.50),(279,279,6.47),(282,282,6.51),(285,285,6.50),(288,288,6.50),(290,295,6.44),(297,297,6.55),(301,301,6.49),(304,304,6.49),(308,308,6.65),(310,310,6.60),(312,317,6.49),(319,319,6.85),(326,326,6.51),(329,329,6.68),(334,341,6.53),(346,351,6.51),(353,356,6.59),(358,358,6.51),(360,364,6.43),(366,371,6.49)]
b11 = [(3,8.03),(7,7.98),(16,8.03),(26,8.10),(35,7.92),(51,8.06),(59,7.76),(64,7.99),(65,7.99),(67,8.04),(68,8.05),(70,8.09),(74,8.12),(76,8.03),(77,8.02),(78,8.02),(79,8.04),(80,8.06),(102,8.03),(103,8.00),(104,7.98),
       (128,7.97),(139,7.99),(140,8.03),(149,8.08),(152,7.99),(153,8.08),(160,8.05),(162,8.06),(163,7.91),(172,8.03),(173,8.03),(174,8.02),(175,8.02),(176,8.03),(177,8.05),(184,8.02),(186,8.03),(195,8.06),(200,8.05),(219,8.05),(221,8.02),(224,7.99),
       (242,8.00),(247,8.02),(249,8.03),(252,7.96),(270,8.02),(272,7.98),(279,8.04),(291,8.05),(292,8.03),(293,8.03),(295,8.03),(304,7.97),(308,7.97),(315,8.03),(316,7.99),(317,7.95),(318,7.99),(319,7.99),(320,8.03),(321,8.04),(322,8.09),(328,8.02),(337,8.02),(343,7.98),(353,7.98),(354,7.98),(355,7.97),(356,7.98),(363,8.00),(365,7.97),(367,8.02)]
b12 = [(3,9.45),(4,9.44),(8,9.45),(9,9.45),(27,9.49),(39,9.46),(41,9.44),(42,9.45),(50,9.47),(52,9.45),(59,9.47),(65,9.45),(67,9.55),(68,9.56),(70,9.55),(71,9.53),(72,9.57),(74,9.55),(76,9.47),(77,9.45),(78,9.49),(79,9.49),(80,9.49),(81,9.49),(82,9.50),(90,9.38),(91,9.39),(92,9.44),(98,9.49),(99,9.46),(103,9.41),(104,9.41),
       (111,9.50),(113,9.44),(114,9.43),(118,9.50),(123,9.53),(129,9.52),(130,9.52),(131,9.52),(137,9.45),(139,9.52),(140,9.56),(141,9.58),(147,9.49),(148,9.50),(149,9.45),(150,9.46),(153,9.51),(159,9.55),(160,9.47),(162,9.51),(163,9.51),(166,9.52),(171,9.53),(172,9.47),(175,9.51),(176,9.55),(177,9.56),(178,9.53),(179,9.53),(184,9.45),(185,9.40),(186,9.43),(195,9.46),(196,9.45),(198,9.45),(199,9.50),(209,9.40),(211,9.41),(212,9.43),(213,9.45),(214,9.51),(217,9.53),(220,9.49),(223,9.41),(232,9.49),(233,9.47),(234,9.45),
       (243,9.52),(244,9.51),(247,9.46),(249,9.50),(250,9.51),(257,9.43),(260,9.46),(269,9.43),(271,9.43),(279,9.45),(282,9.46),(291,9.45),(292,9.44),(293,9.39),(294,9.44),(295,9.47),(302,9.45),(305,9.39),(308,9.55),(315,9.47),(316,9.40),(317,9.37),(318,9.46),(319,9.55),(321,9.58),(322,9.55),(323,9.52),(328,9.43),(329,9.38),(334,9.53),(341,9.37),(343,9.39),(346,9.46),(351,9.41),(353,9.41),(354,9.39),(355,9.40),(356,9.40),(358,9.45),(360,9.46),(362,9.44),(363,9.41),(365,9.32),(366,9.39),(367,9.43),(369,9.47)]
b13 = [(2,14.70),(5,14.65),(6,14.42),(12,14.42),(13,14.32),(16,14.55),(24,14.38),(36,14.52),(39,14.52),(47,14.50),(53,14.70),(55,14.87),(59,13.94),(60,14.89),(61,14.61),(62,14.71),(69,14.78),(71,14.78),(72,14.48),(72,14.29),(74,14.61),(74,14.05),(83,14.80),(84,14.75),(91,14.24),(94,14.61),(95,14.52),(96,14.01),(97,14.59),(106,14.65),(107,13.66),(108,14.56),
       (110,14.25),(112,14.56),(118,14.41),(120,14.80),(121,13.52),(122,14.48),(129,14.75),(130,14.22),(131,14.29),(132,14.40),(137,14.41),(141,14.34),(142,14.15),(145,14.92),(146,14.74),(147,14.68),(149,14.34),(152,14.25),(158,14.43),(160,14.34),(162,14.80),(166,14.52),(167,14.87),(169,14.58),(171,14.58),(173,14.56),(180,14.46),(181,13.99),(186,14.86),(191,14.11),(193,14.46),(196,14.77),(201,14.73),(202,14.43),(203,15.07),(206,14.46),(211,14.91),(213,15.01),(214,15.14),(216,14.40),(221,14.89),(225,14.71),(234,14.23),
       (241,14.24),(242,14.90),(243,14.21),(244,14.07),(249,14.85),(252,14.44),(272,14.70),(274,14.47),(276,14.84),(277,14.75),(288,14.65),(294,14.61),(297,14.18),(298,14.37),(301,14.19),(310,14.38),(312,13.85),(313,14.56),(315,14.85),(316,14.18),(318,14.50),(323,14.18),(326,14.21),(328,14.15),(329,14.10),(334,14.62),(335,13.97),(337,13.78),(341,14.66),(342,14.86),(346,14.59),(349,14.23),(351,14.56),(353,14.13),(354,14.21),(355,14.47),(359,14.11),(360,14.41),(361,14.29),(370,14.18),(371,14.05)]
b14 = [(2,15.75),(3,15.78),(3,15.45),(4,15.50),(7,15.60),(8,15.71),(9,15.73),(12,15.42),(13,15.62),(14,15.50),(16,15.71),(17,15.36),(19,15.60),(22,15.40),(23,15.52),(26,15.84),(27,15.73),(31,15.50),(37,15.54),(41,15.26),(44,15.42),(48,15.90),(48,15.35),(49,15.44),(50,15.52),(60,15.78),(62,15.67),(64,15.64),(65,15.62),(66,16.09),(68,16.20),(69,16.00),(70,16.12),(72,15.56),(73,15.51),(75,15.94),(76,15.45),(78,15.79),(80,15.63),(81,15.79),(83,15.29),(84,15.42),(85,15.53),(88,15.71),(90,15.76),(92,15.57),(93,15.51),(95,15.70),(96,15.67),(97,15.54),(98,15.52),(99,15.72),(100,15.58),(101,15.50),(102,15.32),(103,15.62),(104,15.70),(105,15.93),(107,15.95),(109,16.02),
       (110,15.56),(112,15.65),(113,15.45),(114,15.60),(117,15.63),(118,15.45),(120,15.59),(121,15.76),(123,15.60),(124,15.90),(126,15.44),(128,15.36),(132,15.57),(133,15.90),(134,15.71),(139,16.18),(140,15.72),(145,15.64),(146,15.47),(147,15.56),(149,15.71),(150,15.54),(157,15.73),(167,16.13),(168,15.67),(169,15.54),(172,16.01),(173,15.63),(174,15.32),(175,15.40),(176,15.78),(179,15.79),(181,15.75),(185,15.22),(189,15.28),(196,15.58),(198,15.46),(199,16.11),(200,16.26),(201,16.30),(202,16.05),(203,16.13),(204,15.78),(205,15.57),(206,15.66),(209,15.23),(210,15.38),(211,15.56),(212,15.38),(213,15.51),(216,15.96),(219,15.88),(220,15.44),(225,15.60),(228,15.78),
       (243,15.58),(244,15.41),(249,15.95),(250,15.89),(252,15.15),(253,15.38),(254,15.47),(257,15.66),(258,15.21),(264,15.59),(265,15.38),(269,15.87),(270,15.48),(272,15.52),(273,15.59),(274,15.23),(276,15.62),(277,15.63),(279,15.79),(282,15.58),(283,15.30),(288,15.53),(289,15.53),(291,15.60),(292,15.54),(293,15.60),(295,15.60),(297,16.05),(298,15.84),(301,15.77),(302,15.67),(305,15.51),(308,15.99),(310,15.82),(312,15.64),(313,15.44),(314,15.44),(316,15.50),(318,15.66),(319,16.26),(320,15.69),(323,16.01),(326,15.34),(328,15.45),(329,15.07),(330,15.66),(334,15.83),(335,16.05),(337,15.53),(339,15.64),(342,15.54),(343,16.02),(346,15.20),(349,15.23),(350,15.60),(351,15.44),(353,15.63),(356,15.29),(358,15.10),(359,15.51),(360,15.75),(361,15.70),(362,15.47),(365,15.16),(366,15.21),(367,15.91),(368,15.53),(369,16.01),(370,15.96),(371,15.45)]
b15 = [(3,18.09),(5,18.06),(6,18.14),(8,18.00),(9,18.11),(14,18.22),(15,18.27),(16,18.09),(17,18.09),(18,18.10),(28,18.14),(29,18.12),(31,18.26),(32,18.27),(33,18.28),(39,18.23),(40,18.20),(41,18.23),(42,18.33),(43,18.27),(44,18.27),(51,18.18),(52,18.16),(53,18.24),(55,18.27),(57,18.27),(58,18.29),(62,18.41),(63,18.18),(68,18.36),(77,18.14),(79,18.35),(88,18.05),(90,18.16),(91,18.10),(92,18.11),(94,18.04),(96,18.12),(99,18.29),(100,18.15),(101,18.15),(102,18.14),(103,18.10),
       (110,18.34),(111,18.34),(112,18.34),(113,18.20),(114,18.15),(115,18.24),(122,18.42),(123,18.38),(124,18.23),(126,18.34),(128,18.32),(130,18.55),(134,18.38),(139,18.45),(140,18.45),(141,18.46),(148,18.27),(149,18.20),(152,18.34),(153,18.36),(160,18.24),(172,18.27),(174,18.27),(175,18.29),(176,18.36),(177,18.34),(182,18.27),(185,18.12),(186,18.10),(188,18.26),(195,18.20),(196,18.17),(198,18.11),(199,18.34),(200,18.34),(209,18.04),(211,17.98),(212,17.98),(213,18.01),(214,18.08),(218,18.27),(219,18.16),(221,18.10),(223,18.23),(224,18.17),(232,18.23),(234,18.22),
       (243,18.47),(247,18.26),(249,18.21),(254,18.20),(257,18.26),(258,18.26),(260,18.29),(269,18.20),(270,18.08),(271,18.24),(272,18.18),(279,18.21),(282,18.20),(283,18.32),(291,18.20),(292,18.05),(293,18.02),(294,18.16),(295,18.16),(304,17.93),(308,18.18),(319,18.30),(320,18.30),(323,18.24),(329,17.99),(330,18.03),(339,17.87),(341,17.83),(342,17.86),(343,17.98),(353,17.93),(355,18.00),(362,18.04),(363,18.09),(367,17.99),(368,17.93)]
b16 = [(7,18.36),(8,18.40),(9,18.41),(15,18.46),(27,18.45),(41,18.47),(43,18.58),(51,18.36),(56,18.57),(66,18.65),(67,18.69),(68,18.66),(70,18.48),(71,18.48),(72,18.48),(74,18.48),(75,18.42),(76,18.52),(77,18.53),(78,18.57),(80,18.41),(81,18.35),(88,18.39),(92,18.34),(93,18.35),(98,18.39),(99,18.43),(100,18.42),(102,18.39),(103,18.47),(105,18.41),(106,18.49),
       (111,18.48),(113,18.48),(114,18.48),(115,18.52),(117,18.42),(118,18.46),(126,18.61),(128,18.67),(129,18.41),(130,18.48),(137,18.47),(139,18.73),(140,18.78),(141,18.49),(147,18.40),(148,18.43),(149,18.42),(150,18.42),(152,18.46),(153,18.48),(159,18.46),(166,18.53),(172,18.51),(173,18.55),(175,18.70),(176,18.61),(177,18.48),(178,18.47),(179,18.41),(184,18.48),(185,18.42),(186,18.49),(195,18.35),(198,18.52),(200,18.66),(209,18.40),(210,18.39),(211,18.38),(212,18.39),(213,18.40),(214,18.41),(219,18.45),(220,18.36),(223,18.43),(224,18.34),(225,18.43),(232,18.43),(233,18.41),
       (242,18.53),(247,18.48),(249,18.45),(270,18.54),(272,18.42),(273,18.43),(279,18.43),(282,18.53),(291,18.38),(294,18.53),(295,18.59),(304,18.39),(308,18.46),(315,18.30),(316,18.40),(317,18.42),(319,18.66),(320,18.64),(321,18.42),(322,18.40),(323,18.42),(328,18.42),(329,18.38),(334,18.35),(335,18.32),(339,18.29),(343,18.26),(353,18.23),(355,18.36),(356,18.28),(358,18.35),(363,18.35),(365,18.29),(368,18.32),(369,18.27)]
b17 = [(4,18.84),(7,18.79),(15,18.90),(18,18.76),(56,18.90),(64,18.90),(65,18.90),(66,18.96),(68,19.03),(70,19.00),(72,19.06),(76,18.89),(77,18.88),(78,18.95),(79,18.95),(80,18.95),(81,18.90),(88,18.78),(90,18.71),(92,18.83),(99,18.90),(100,18.90),(102,18.83),(103,18.78),
       (111,18.98),(114,18.84),(118,18.98),(130,19.08),(139,19.09),(148,19.03),(149,18.95),(150,18.95),(152,19.03),(153,19.03),(159,19.12),(160,18.97),(162,19.04),(163,19.04),(172,18.96),(173,18.93),(174,18.93),(175,19.07),(176,19.08),(177,19.09),(184,18.90),(185,18.88),(186,18.89),(188,18.98),(195,18.94),(219,18.96),(220,18.85),(221,18.82),(223,18.77),(224,18.90),(232,18.96),(234,18.92),
       (247,18.97),(249,19.00),(250,19.00),(257,18.86),(260,18.97),(279,18.88),(291,18.86),(294,18.84),(304,18.69),(305,18.72),(308,18.92),(316,18.72),(317,18.73),(318,18.88),(319,18.92),(320,18.95),(321,18.95),(322,18.95),(328,18.70),(329,18.70),(330,18.78),(334,18.82),(342,18.59),(343,18.65),(353,18.67),(354,18.67),(355,18.69),(356,18.72),(358,18.83),(363,18.72),(367,18.70),(368,18.70)]

panel_a = [a1,a2,a3,a4,a5,a6,a7,a8,a9,a10,a11,a12,a13,a14,a15,a16,a17]
panel_b = [b1,b2,b3,b4,b5,b6,b7,b8,b9,b10,b11,b12,b13,b14,b15,b16,b17]
mode_names = ['Mode ' + str(i) for i in range(1, 18)]
mode_colors = ['#FF0000','#80FF00','#008000','#00FFFF','#0000FF','#FF00FF','#CC6600','#00CC66','#33CCCC',
               '#3366CC','#9933CC','#CC3366','#CC3300','#66CC33','#33CCFF','#6633CC','#FF3399']
major_ticks = [2, 5, 10, 15, 20]
minor_ticks = [2.5, 10/3, 25/6, 35/6, 20/3, 7.5, 25/3, 55/6, 65/6, 35/3, 12.5, 40/3, 85/6, 95/6, 50/3, 17.5, 55/3, 115/6]
date_ticks = ['2023-03-30', '2023-04-04', '2023-04-09', '2023-04-14', '2023-04-19', '2023-04-24']

W, H = 1659, 1337
start = pd.Timestamp('2023-03-27')


def make_frame(rows_per_mode):
    # long table for seaborn, later modes drawn on top
    out = []
    for name, rows in zip(mode_names, rows_per_mode):
        for r in rows:
            if len(r) == 2:
                out.append((name, r[0], r[1]))
            else:
                for k in range(r[0], r[1] + 1):
                    out.append((name, k, r[2]))
    df = pd.DataFrame(out, columns=['mode', 'sample', 'freq'])
    df['time'] = start + pd.to_timedelta(df['sample'] * 2, unit='h')
    return df


fig = plt.figure(figsize=(W / 100, H / 100), dpi=100)
palette = dict(zip(mode_names, mode_colors))

# axes box in pixels: top, bottom
boxes = [(48, 550), (661, 1163)]
titles = ['(a)   SVD', '(b)  3D  - RSVD']
title_y = [18, 633]
left, right = 102.9, 1657

for rows, box, title, ty in zip([panel_a, panel_b], boxes, titles, title_y):
    ax = fig.add_axes([left / W, 1 - box[1] / H, (right - left) / W, (box[1] - box[0]) / H])
    sns.scatterplot(data=make_frame(rows), x='time', y='freq', hue='mode', palette=palette,
                    s=18, linewidth=0, legend=False, ax=ax, clip_on=False)
    ax.set_xlim(start, start + pd.Timedelta(hours=371.3 * 2))
    ax.set_ylim(2, 20)
    ax.set_xlabel('')
    ax.set_ylabel('')
    ax.set_yticks(major_ticks)
    ax.set_yticks(minor_ticks, minor=True)
    ax.set_xticks(pd.to_datetime(date_ticks))
    ax.xaxis.set_major_formatter(mdates.DateFormatter('%d/%b/%y'))
    ax.tick_params(axis='x', which='major', direction='in', top=True, length=10.8, width=0.8, color='#a0a0a0', pad=8)
    ax.tick_params(axis='y', which='major', direction='in', right=True, length=10.8, width=0.8, color='#a0a0a0', pad=13)
    ax.tick_params(axis='y', which='minor', direction='in', right=True, length=7.2, width=0.8, color='#a0a0a0')
    for lab in ax.get_xticklabels():
        lab.set_fontfamily('cmr10')
        lab.set_fontsize(20.6)
    for lab in ax.get_yticklabels():
        lab.set_fontfamily('Liberation Serif')
        lab.set_fontsize(18.5)
    for sp in ax.spines.values():
        sp.set_linewidth(1.1)
        sp.set_color('#111111')
    fig.text(848 / W, 1 - ty / H, title, family='Liberation Serif', fontsize=25.5, ha='center', va='center')
    fig.text(17 / W, 1 - (box[0] + box[1]) / 2 / H, 'Frequencies [Hz]', family='Liberation Serif',
             fontsize=25.8, rotation=90, ha='center', va='center')

# legend, columns are not evenly spaced in the original
legend_x = [203.6, 462.5, 699, 909, 1129.5, 1356]
legend_y = [1248, 1288, 1327]
text_base = [[1257, 1297, 1331], [1260, 1298, 1332]]
for i, (name, col) in enumerate(zip(mode_names, mode_colors)):
    c, r = i // 3, i % 3
    fig.add_artist(Line2D([legend_x[c] / W], [1 - legend_y[r] / H], marker='o', ms=15, mfc=col, mec=col,
                          mew=0, ls='', transform=fig.transFigure))
    base = text_base[0 if c == 0 else 1][r]
    fig.text((legend_x[c] + 18) / W, 1 - base / H, name, family='cmr10', fontsize=21,
             ha='left', va='baseline')

fig.savefig('out.png', dpi=100)
